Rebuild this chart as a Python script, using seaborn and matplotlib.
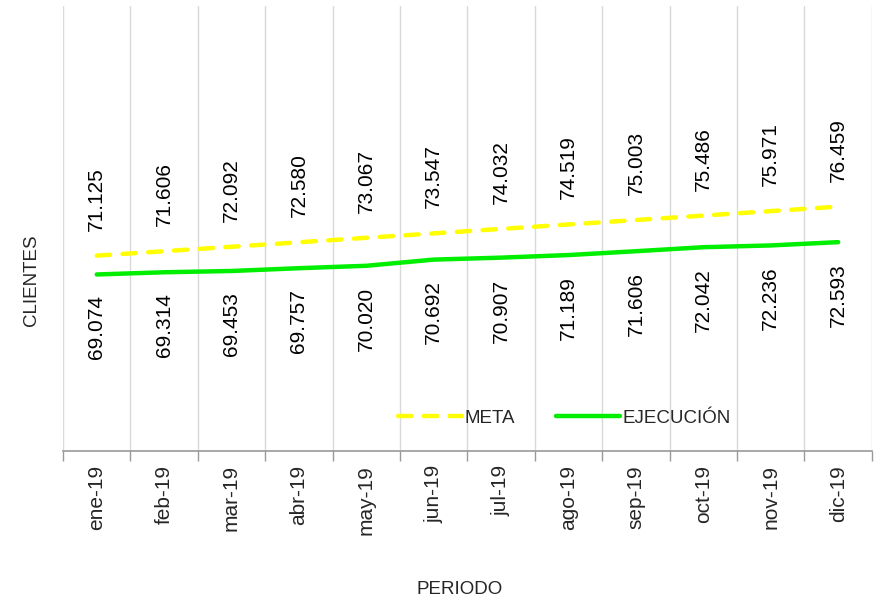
import matplotlib.pyplot as plt
import seaborn as sns
import pandas as pd
from matplotlib.ticker import FixedLocator

# data
periodos = ["ene-19", "feb-19", "mar-19", "abr-19", "may-19", "jun-19",
            "jul-19", "ago-19", "sep-19", "oct-19", "nov-19", "dic-19"]
meta = [71.125, 71.606, 72.092, 72.580, 73.067, 73.547,
        74.032, 74.519, 75.003, 75.486, 75.971, 76.459]
ejecucion = [69.074, 69.314, 69.453, 69.757, 70.020, 70.692,
             70.907, 71.189, 71.606, 72.042, 72.236, 72.593]

df = pd.DataFrame({"periodo": periodos, "META": meta, "EJECUCIÓN": ejecucion})
df["pos"] = range(len(periodos))

sns.set_theme(style="white")
plt.rcParams['font.family'] = ['Liberation Sans', 'DejaVu Sans']
fs = 15

fig = plt.figure(figsize=(8.84, 6.03), dpi=100)
ax = fig.add_axes([0.0713, 0.252, 0.915, 0.738])

sns.lineplot(x="pos", y="META", data=df, ax=ax, color="#FFFF00", linewidth=3.2,
             label="META", solid_capstyle="round")
ax.lines[-1].set_linestyle((0, (3, 2.8)))
ax.lines[-1].set_dash_capstyle("round")
sns.lineplot(x="pos", y="EJECUCIÓN", data=df, ax=ax, color="#00EE00", linewidth=3.2,
             label="EJECUCIÓN", solid_capstyle="round")

# data labels
for i in range(len(periodos)):
    ax.annotate(f"{meta[i]:.3f}", (i, meta[i]), xytext=(0, 18), textcoords="offset points",
                rotation=90, ha="center", va="bottom", fontsize=fs, color="black")
    ax.annotate(f"{ejecucion[i]:.3f}", (i, ejecucion[i]), xytext=(0, -15), textcoords="offset points",
                rotation=90, ha="center", va="top", fontsize=fs, color="black")

ax.set_xlim(-0.5, len(periodos) - 0.5)
ax.set_ylim(49.85, 98.3)

ax.set_xticks(range(len(periodos)))
ax.set_xticklabels(periodos, rotation=90, fontsize=fs)
ax.xaxis.set_minor_locator(FixedLocator([i - 0.5 for i in range(len(periodos) + 1)]))
ax.tick_params(axis="x", which="major", length=0, pad=10)
ax.tick_params(axis="x", which="minor", bottom=True, length=7, width=1, color="#999999")
ax.set_yticks([])
ax.grid(True, which="minor", axis="x", color="#d9d9d9", linewidth=1)

for s in ["top", "right", "left"]:
    ax.spines[s].set_visible(False)
ax.spines["bottom"].set_color("#999999")
ax.spines["bottom"].set_linewidth(1.2)

ax.set_xlabel("")
ax.set_ylabel("")
fig.text(0.036, 0.536, "CLIENTES", rotation=90, ha="center", va="center", fontsize=fs - 1.5)
fig.text(0.52, 0.022, "PERIODO", ha="center", va="center", fontsize=fs - 1.5)

leg = ax.legend(loc="center", bbox_to_anchor=(0.62, 0.074), ncol=2, frameon=False,
                fontsize=fs - 1.5, handlelength=3.4, handletextpad=0.15, columnspacing=2.2)

fig.savefig("out.png", dpi=100)
